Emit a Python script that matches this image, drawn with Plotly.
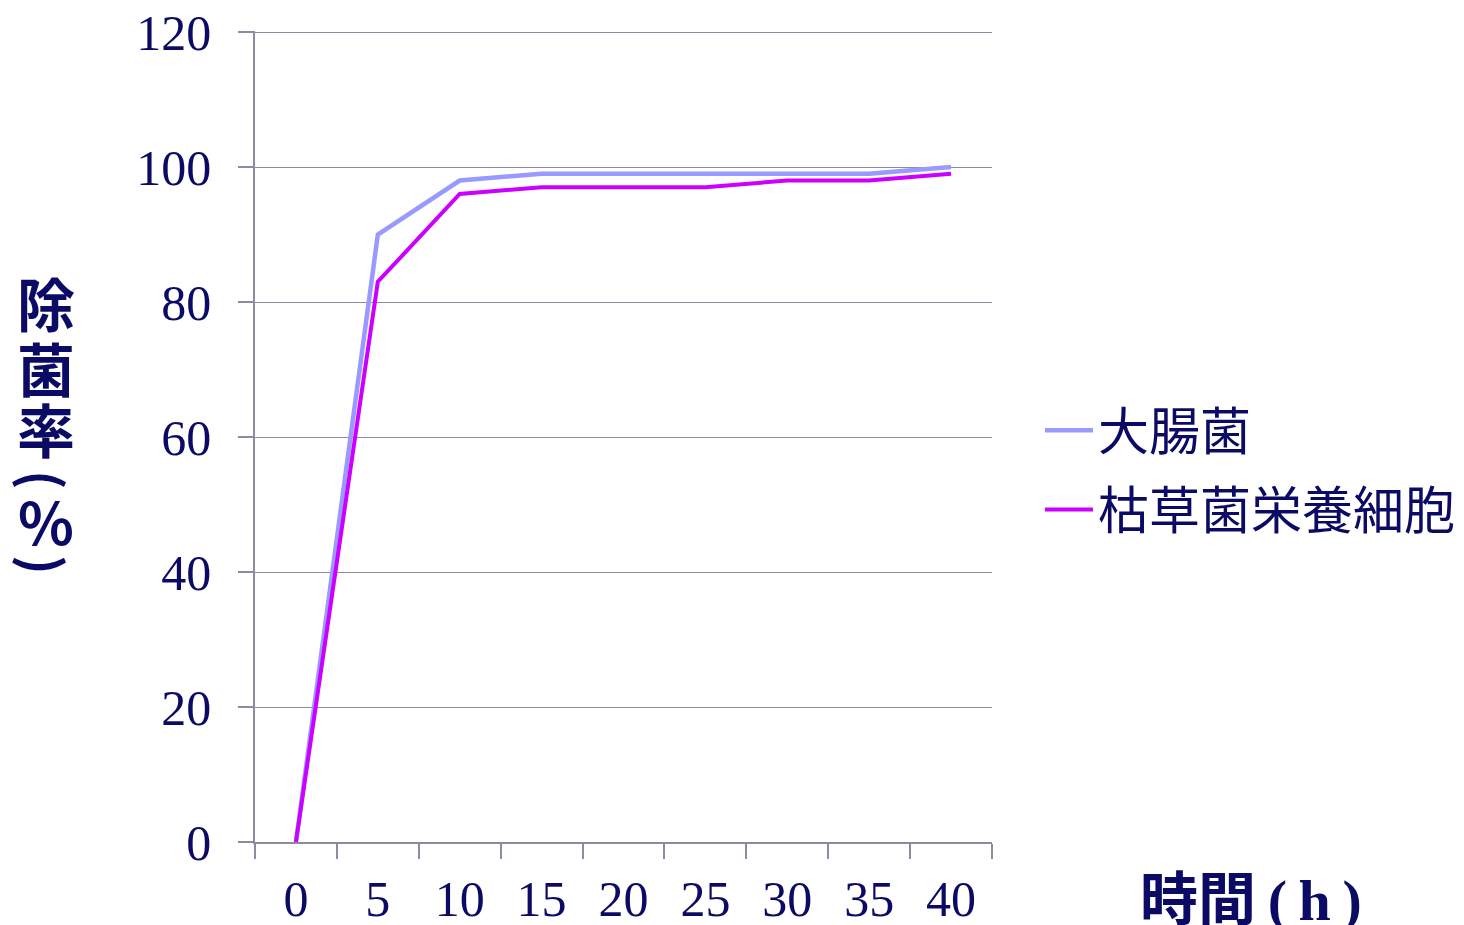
import plotly.graph_objects as go

hours = ["0", "5", "10", "15", "20", "25", "30", "35", "40"]
ecoli = [0, 90, 98, 99, 99, 99, 99, 99, 100]
subtilis = [0, 83, 96, 97, 97, 97, 98, 98, 99]
y_ticks = [0, 20, 40, 60, 80, 100, 120]
y_title_chars = ["除", "菌", "率", "(", "%", ")"]

navy = "#0b0b66"
grid = "#8c8ca0"

fig = go.Figure()
fig.add_trace(go.Scatter(x=hours, y=ecoli, mode="lines", name="大腸菌", legendgroup="a",
                         line=dict(color="#9999ff", width=4.5)))
fig.add_trace(go.Scatter(x=hours, y=subtilis, mode="lines", name="枯草菌栄養細胞", legendgroup="b",
                         line=dict(color="#cc00ff", width=4)))

OFF = 8  # page body margin
W, H = 1464 - OFF, 925 - OFF
L, R, T, B = 255 - OFF, 992 - OFF, 31 - OFF, 842 - OFF
PW, PH = R - L, B - T


def px(xp):
    return (xp - OFF - L) / PW


def py(yp):
    return (B - (yp - OFF)) / PH


fig.update_layout(
    width=W, height=H,
    margin=dict(l=L, r=W - R, t=T, b=H - B, pad=0, autoexpand=False),
    plot_bgcolor="white", paper_bgcolor="white",
    font=dict(family="Liberation Serif", color=navy, size=50),
    showlegend=True,
    legend=dict(x=px(1040), y=py(470), xanchor="left", yanchor="middle",
                font=dict(family="Noto Sans CJK JP", size=51, color=navy),
                itemwidth=48, tracegroupgap=10, bgcolor="rgba(0,0,0,0)"),
    xaxis=dict(type="category", range=[-0.5, 8.5], tickson="boundaries", ticks="outside", ticklen=15,
               tickcolor=grid, tickwidth=1.5, showline=True, linecolor=grid, linewidth=1.5,
               showgrid=False, zeroline=False, ticklabelstandoff=12, automargin=False,
               ticklabeloverflow="allow",
               tickfont=dict(family="Liberation Serif", size=50, color=navy)),
    yaxis=dict(range=[0, 120.15], tickvals=y_ticks, ticks="outside", ticklen=15,
               tickcolor=grid, tickwidth=1.5, showline=True, linecolor=grid, linewidth=1.5,
               showgrid=True, gridcolor=grid, gridwidth=1.2, zeroline=False,
               ticklabelstandoff=17, automargin=False, ticklabeloverflow="allow",
               tickfont=dict(family="Liberation Serif", size=50, color=navy)),
)

ys = [302, 367, 428, 480, 520, 565]
angles = [0, 0, 0, 90, 0, 90]
sizes = [58, 58, 58, 52, 58, 52]
for ch, yp, ang, sz in zip(y_title_chars, ys, angles, sizes):
    fig.add_annotation(
        text=ch, xref="paper", yref="paper",
        x=px(46), y=py(yp), textangle=ang,
        xanchor="center", yanchor="middle", showarrow=False,
        font=dict(family="Noto Sans CJK JP", size=sz, color=navy, weight="bold"),
    )

fig.add_annotation(
    text="時間<span style='font-family:Liberation Serif'>\u2009(\u2009h\u2009)</span>",
    xref="paper", yref="paper",
    x=px(1251), y=py(895),
    xanchor="center", yanchor="middle", showarrow=False,
    font=dict(family="Noto Sans CJK JP", size=58, color=navy, weight="bold"),
)

fig.write_html("out.html")
